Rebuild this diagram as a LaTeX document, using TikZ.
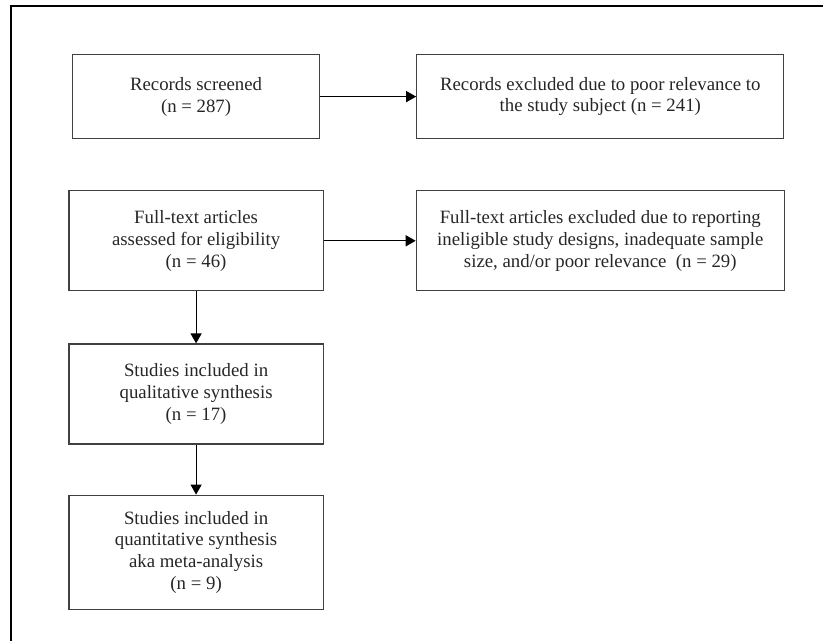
\documentclass[tikz,border=0pt]{standalone}
\usepackage{fontspec}
\setmainfont{Liberation Serif}
\usetikzlibrary{arrows.meta, positioning}

\begin{document}
\begin{tikzpicture}[
    node distance=25.5pt and 46pt,
    box/.style={
        rectangle, draw=black!75, line width=0.6pt,
        minimum width=127pt, minimum height=50pt, align=center,
        text=black!85, inner sep=2pt
    },
    >={Triangle[length=5pt, width=5.5pt]},
    every node/.style={font=\fontsize{9.4}{10.9}\selectfont}
]

\node[box, minimum width=123.5pt, minimum height=42pt] (screened) {Records screened\\(n = 287)};
\node[box, minimum width=183.5pt, minimum height=42pt, right=48pt of screened] (screenout) {Records excluded due to poor relevance to\\the study subject (n = 241)};
\node[box, below=of screened] (fulltext) {Full-text articles\\assessed for eligibility\\(n = 46)};
\node[box, minimum width=184pt, right=of fulltext] (fullout) {Full-text articles excluded due to reporting\\ineligible study designs, inadequate sample\\size, and/or poor relevance\ \ (n = 29)};
\node[box, below=26pt of fulltext] (quali) {Studies included in\\qualitative synthesis\\(n = 17)};
\node[box, minimum height=57pt, below=25pt of quali] (quanti) {Studies included in\\quantitative synthesis\\aka meta-analysis\\(n = 9)};

\draw[->, line width=0.6pt] (screened) -- (screenout);
\draw[->, line width=0.6pt] (fulltext) -- (fullout);
\draw[->, line width=0.6pt] (fulltext) -- (quali);
\draw[->, line width=0.6pt] (quali) -- (quanti);

% page frame, only top and left edges show
\coordinate (topleft) at ([xshift=-36pt, yshift=27pt]screened.north west);
\useasboundingbox (topleft) rectangle ([xshift=411.5pt, yshift=-320.5pt]topleft);
\coordinate (corner) at ([xshift=5.5pt, yshift=-3pt]topleft);
\draw[line width=0.7pt] ([yshift=-317.5pt]corner) |- ([xshift=406pt]corner);

\end{tikzpicture}
\end{document}
